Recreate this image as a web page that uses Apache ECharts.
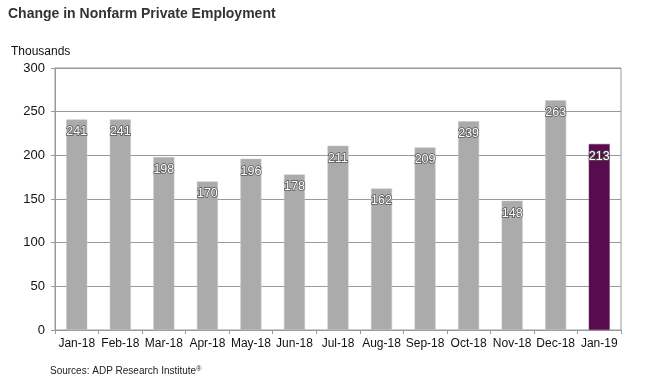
<!DOCTYPE html>
<html><head><meta charset="utf-8">
<script src="https://cdn.jsdelivr.net/npm/echarts@6/dist/echarts.min.js"></script>
<style>html,body{margin:0;padding:0;background:#fff}#c{width:645px;height:380px}</style>
</head><body><div id="c"></div>
<script>
const categories = ["Jan-18","Feb-18","Mar-18","Apr-18","May-18","Jun-18","Jul-18","Aug-18","Sep-18","Oct-18","Nov-18","Dec-18","Jan-19"];
const values = [241,241,198,170,196,178,211,162,209,239,148,263,213];
const yTicks = [0,50,100,150,200,250,300];
const highlightIndex = 12;

const chart = echarts.init(document.getElementById('c'));
const font = 'Liberation Sans, Arial, sans-serif';
chart.setOption({
  animation: false,
  textStyle: {fontFamily: font},
  title: [
    {text: 'Change in Nonfarm Private Employment', left: 3, top: 2,
     textStyle: {fontSize: 14, fontWeight: 'bold', color: '#333', fontFamily: font}},
    {text: 'Thousands', left: 6, top: 41,
     textStyle: {fontSize: 12, fontWeight: 'normal', color: '#111', fontFamily: font}},
    {text: '{a|Sources: ADP Research Institute}{s|\u00AE}', left: 45, top: 361,
     textStyle: {fontSize: 10, fontWeight: 'normal', color: '#222', fontFamily: font,
       rich: {a: {fontSize: 10, color: '#222', fontFamily: font},
              s: {fontSize: 7, color: '#222', fontFamily: font, verticalAlign: 'top', padding: [0, 0, 4, 0]}}}}
  ],
  grid: {left: 55, right: 24, top: 68, bottom: 50, show: true, borderColor: '#999', borderWidth: 1},
  xAxis: {
    type: 'category', data: categories,
    axisLine: {lineStyle: {color: '#999'}},
    axisTick: {show: true, length: 4, lineStyle: {color: '#999'}},
    axisLabel: {color: '#111', fontSize: 12, margin: 8, interval: 0, fontFamily: font}
  },
  yAxis: {
    type: 'value', min: 0, max: 300, interval: 50,
    axisLine: {show: true, lineStyle: {color: '#999'}},
    axisTick: {show: true, length: 4, lineStyle: {color: '#999'}},
    axisLabel: {color: '#111', fontSize: 13, margin: 10, fontFamily: font,
      formatter: v => yTicks.includes(v) ? String(v) : ''},
    splitLine: {lineStyle: {color: '#9a9a9a', width: 1}}
  },
  series: [{
    type: 'bar',
    barWidth: 21,
    data: values.map((v, i) => ({
      value: v,
      itemStyle: i === highlightIndex
        ? {color: '#580C4F', borderColor: '#7a3a70', borderWidth: 0.5}
        : {color: '#ABABAB', borderColor: '#c4c4c4', borderWidth: 0.5}
    })),
    label: {
      show: true, position: 'insideTop', distance: 6,
      color: '#fff', fontSize: 12.5, fontFamily: font,
      textBorderColor: '#555', textBorderWidth: 1.5
    }
  }]
});
</script></body></html>
